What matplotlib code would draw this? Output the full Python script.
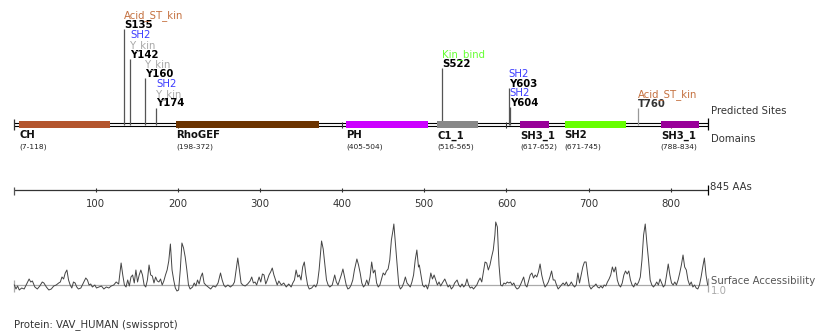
import matplotlib
matplotlib.use('Agg')
import matplotlib.pyplot as plt

plt.rcParams['font.family'] = ['DejaVu Sans']

protein_len = 845
protein_label = 'Protein: VAV_HUMAN (swissprot)'

# domains
dom_names = ['CH', 'RhoGEF', 'PH', 'C1_1', 'SH3_1', 'SH2', 'SH3_1']
dom_start = [7, 198, 405, 516, 617, 671, 788]
dom_end = [118, 372, 504, 565, 652, 745, 834]
dom_colors = ['#B4552D', '#6B3300', '#CC00FF', '#888888', '#990099', '#66FF00', '#990099']

# predicted sites (motifs listed bottom -> top above the site name)
site_names = ['S135', 'Y142', 'Y160', 'Y174', 'S522', 'Y603', 'Y604', 'T760']
site_pos = [135, 142, 160, 174, 522, 603, 604, 760]
site_motifs = [['Acid_ST_kin'], ['Y_kin', 'SH2'], ['Y_kin'], ['Y_kin', 'SH2'],
               ['Kin_bind'], ['SH2'], ['SH2'], ['Acid_ST_kin']]
motif_colors = {'Acid_ST_kin': '#C4703F', 'SH2': '#3C3CFF',
                'Y_kin': '#A8A8A8', 'Kin_bind': '#66FF33'}

ruler_ticks = [100, 200, 300, 400, 500, 600, 700, 800]

# surface accessibility profile
sa_res = [1, 3, 5, 7, 10, 13, 16, 19, 21, 23, 26, 29, 32, 35, 37, 40, 43, 46, 49, 52,
          55, 57, 59, 61, 63, 65, 67, 69, 71, 73, 75, 77, 79, 82, 85, 88, 90, 92, 94, 96,
          99, 101, 104, 107, 110, 113, 116, 119, 122, 125, 128, 131, 133, 135, 137, 139, 141, 143, 145, 147,
          149, 151, 153, 155, 157, 159, 161, 163, 165, 167, 169, 171, 173, 175, 177, 179, 181, 183, 185, 187,
          189, 191, 193, 195, 197, 199, 201, 203, 205, 207, 209, 211, 213, 215, 218, 220, 222, 224, 226, 228,
          230, 232, 234, 237, 240, 243, 246, 249, 252, 254, 256, 258, 261, 264, 267, 269, 271, 273, 275, 277,
          279, 282, 285, 288, 290, 292, 294, 296, 299, 301, 303, 305, 307, 309, 311, 313, 315, 317, 319, 321,
          323, 326, 329, 332, 335, 338, 340, 342, 344, 346, 348, 350, 352, 354, 356, 358, 360, 363, 366, 368,
          370, 372, 375, 377, 379, 381, 383, 385, 388, 391, 393, 395, 397, 399, 401, 403, 405, 407, 409, 411,
          413, 415, 418, 420, 422, 424, 426, 428, 430, 432, 434, 436, 438, 440, 442, 444, 446, 448, 450, 452,
          454, 456, 458, 460, 462, 463, 465, 467, 469, 471, 473, 475, 477, 479, 481, 483, 485, 487, 489, 491,
          493, 494, 496, 498, 500, 502, 504, 506, 508, 510, 512, 514, 516, 518, 520, 522, 525, 527, 529, 531,
          533, 535, 537, 540, 542, 544, 546, 548, 550, 552, 554, 556, 558, 560, 562, 564, 566, 568, 570, 572,
          574, 576, 578, 580, 582, 584, 586, 587, 589, 591, 593, 595, 597, 599, 601, 603, 605, 607, 609, 611,
          613, 615, 617, 619, 621, 623, 625, 627, 629, 631, 633, 635, 637, 639, 641, 643, 645, 647, 649, 651,
          653, 655, 657, 659, 661, 663, 665, 667, 669, 671, 673, 675, 677, 679, 681, 683, 685, 687, 689, 691,
          693, 695, 697, 699, 701, 703, 705, 707, 709, 711, 713, 715, 717, 719, 721, 723, 725, 727, 729, 731,
          733, 735, 737, 739, 741, 743, 745, 747, 749, 751, 753, 755, 757, 759, 761, 763, 765, 767, 769, 771,
          773, 775, 777, 779, 781, 783, 785, 787, 789, 791, 793, 795, 797, 799, 801, 803, 805, 807, 809, 811,
          813, 815, 817, 819, 821, 823, 825, 827, 829, 831, 833, 835, 837, 839, 841, 843, 845]
sa_val = [1.0, 0.6, 0.9, 0.5, 0.7, 0.6, 1.1, 1.6, 1.3, 1.4, 0.8, 0.6, 0.9, 1.3, 1.2, 0.8, 0.5, 0.6, 0.9, 1.0,
          1.2, 1.3, 1.8, 1.6, 2.2, 2.5, 1.5, 1.0, 0.7, 1.3, 1.2, 0.8, 0.6, 0.7, 1.2, 1.7, 1.5, 1.0, 1.1, 0.8,
          1.0, 0.7, 0.8, 0.9, 0.6, 0.8, 0.7, 0.9, 1.0, 1.3, 1.1, 3.2, 2.0, 1.0, 0.8, 1.5, 0.9, 1.8, 2.0, 1.2,
          2.5, 1.3, 2.0, 2.5, 2.0, 1.0, 0.8, 1.5, 3.0, 2.0, 1.9, 1.2, 1.8, 1.4, 1.3, 1.6, 1.0, 1.4, 2.0, 2.5,
          3.4, 5.1, 2.5, 1.5, 0.7, 0.4, 0.5, 2.5, 5.2, 4.7, 3.8, 2.5, 1.0, 0.6, 0.8, 1.2, 0.9, 1.5, 1.1, 1.8,
          2.2, 1.2, 1.0, 0.8, 0.6, 0.9, 0.8, 1.2, 2.2, 1.5, 1.0, 0.8, 1.0, 0.8, 1.0, 1.3, 2.5, 3.7, 2.5, 1.2,
          1.0, 0.9, 1.1, 1.4, 1.8, 1.2, 1.3, 1.0, 1.8, 1.3, 2.1, 2.0, 1.1, 1.5, 2.0, 2.3, 2.7, 2.0, 1.5, 1.0,
          1.4, 1.0, 1.2, 0.8, 1.1, 0.8, 1.2, 1.5, 2.5, 1.8, 2.0, 1.5, 2.8, 3.3, 2.0, 1.0, 0.6, 0.7, 1.0, 0.8,
          1.2, 2.5, 5.4, 4.6, 3.0, 1.5, 1.0, 0.8, 1.0, 2.0, 1.3, 1.0, 1.5, 2.0, 2.6, 1.8, 1.0, 0.6, 0.7, 1.0,
          1.5, 2.5, 3.6, 3.0, 2.2, 1.2, 0.8, 1.0, 1.5, 1.0, 1.8, 3.3, 2.2, 2.5, 1.2, 0.8, 1.0, 1.6, 2.2, 2.0,
          2.4, 2.6, 3.5, 5.5, 6.5, 7.1, 5.0, 3.0, 1.0, 0.6, 0.8, 1.2, 1.8, 1.2, 1.0, 0.8, 1.3, 2.0, 3.5, 4.5,
          2.8, 3.0, 2.0, 1.0, 0.8, 1.0, 0.6, 1.2, 2.2, 1.6, 2.0, 1.5, 1.0, 1.3, 0.9, 1.2, 1.6, 1.2, 0.8, 1.0,
          0.6, 0.8, 1.2, 1.5, 1.0, 0.8, 1.1, 0.8, 1.0, 1.6, 1.0, 0.7, 0.8, 0.6, 0.8, 1.0, 1.4, 1.7, 1.3, 2.3,
          3.3, 3.2, 2.5, 3.0, 3.8, 4.5, 6.0, 7.3, 6.8, 3.0, 1.0, 0.9, 1.2, 1.1, 1.3, 1.2, 1.3, 1.0, 1.2, 0.8,
          0.6, 0.7, 1.0, 1.4, 1.8, 1.0, 0.8, 1.4, 2.0, 2.2, 1.7, 2.0, 1.8, 2.3, 3.1, 2.0, 1.3, 0.8, 1.0, 1.3,
          1.8, 2.4, 1.5, 1.5, 1.0, 0.6, 0.8, 1.0, 1.2, 1.0, 1.3, 0.9, 1.0, 1.3, 1.0, 0.8, 1.0, 2.2, 1.2, 2.0,
          2.8, 3.3, 3.3, 2.0, 0.9, 0.6, 0.8, 0.9, 1.1, 0.8, 0.7, 0.9, 0.7, 1.0, 0.9, 1.3, 1.6, 2.0, 2.8, 2.3,
          2.8, 1.5, 1.0, 0.8, 1.2, 2.0, 2.4, 2.1, 2.4, 1.5, 1.0, 0.8, 1.2, 1.0, 1.3, 1.8, 3.5, 6.0, 7.1, 5.2,
          3.5, 1.5, 1.0, 0.8, 1.0, 1.3, 1.0, 1.6, 1.2, 0.8, 1.0, 2.0, 3.1, 2.0, 1.2, 1.0, 1.3, 1.0, 1.5, 2.2,
          3.0, 4.0, 2.8, 2.5, 1.5, 1.0, 1.3, 0.8, 1.0, 0.7, 0.6, 1.0, 1.8, 2.8, 3.7, 2.0, 1.0]

# layout (pixels)
W, H = 815, 331
px_per_res = 0.8215
x_left = -13.5 / px_per_res
x_right = (W - 13.5) / px_per_res
stem_top = [29, 59.3, 78, 107.7, 68.3, 88.3, 107, 108.3]
stem_colors = ['#555555'] * 7 + ['#999999']
name_colors = ['black'] * 7 + ['#333333']
fs = 7.3

fig = plt.figure(figsize=(W / 100, H / 100), dpi=100)
ax = fig.add_axes([0, 0, 1, 1])
ax.set_xlim(x_left, x_right)
ax.set_ylim(H, 0)
ax.axis('off')

lab_x = protein_len + 4

# backbone (double line) and ticks
ax.hlines([123.4, 126.1], 0, protein_len, color='black', lw=0.8, zorder=1)
ax.vlines([0], 119, 130, color='#333333', lw=0.9)
ax.vlines([protein_len], 118, 130, color='black', lw=0.9)
ax.vlines([200, 400, 600, 800], 121.7, 128.3, color='#333333', lw=0.8, zorder=1)

# domains
ax.barh(124.65, [e - s for s, e in zip(dom_start, dom_end)], height=7.3,
        left=dom_start, color=dom_colors, zorder=2)
for n, s, e in zip(dom_names, dom_start, dom_end):
    ax.text(s, 138.5, n, fontsize=fs, fontweight='bold', color='#111111', va='baseline', ha='left')
    ax.text(s, 148.3, '(%d-%d)' % (s, e), fontsize=5.4, color='#222222', va='baseline', ha='left')

# sites
for name, pos, motifs, top, sc, nc in zip(site_names, site_pos, site_motifs,
                                          stem_top, stem_colors, name_colors):
    ax.vlines(pos, top, 124.5, color=sc, lw=0.9, zorder=1.5)
    base = top - 1.2
    ax.text(pos, base, name, fontsize=fs, fontweight='bold', color=nc, va='baseline', ha='left')
    for i, m in enumerate(motifs):
        ax.text(pos, base - 9.8 * (i + 1), m, fontsize=fs, color=motif_colors[m],
                va='baseline', ha='left')

ax.text(lab_x, 114, 'Predicted Sites', fontsize=fs, color='#333333', va='baseline')
ax.text(lab_x, 141.5, 'Domains', fontsize=fs, color='#333333', va='baseline')

# ruler
ax.hlines(190, 0, protein_len, color='#333333', lw=0.9)
ax.vlines(0, 186.5, 194.5, color='#555555', lw=0.9)
ax.vlines(protein_len, 185, 195, color='black', lw=0.9)
ax.vlines(ruler_ticks, 188, 192, color='#333333', lw=0.8)
for t in ruler_ticks:
    ax.text(t, 207, str(t), fontsize=fs, color='#333333', ha='center', va='baseline')
ax.text(lab_x - 1, 190, '%d AAs' % protein_len, fontsize=fs, color='#333333', va='baseline')

ax.text(0, 327, protein_label, fontsize=fs, color='#333333', va='baseline')

# surface accessibility
sa_top, sa_bot = 215, 300
ax_sa = fig.add_axes([0, (H - sa_bot) / H, 1, (sa_bot - sa_top) / H])
ax_sa.set_xlim(x_left, x_right)
ax_sa.set_ylim(1.0 - (sa_bot - 285) / 10, 1.0 + (285 - sa_top) / 10)
ax_sa.axis('off')
ax_sa.patch.set_alpha(0)
ax_sa.hlines(1.0, 0, protein_len, color='#AAAAAA', lw=0.9)
ax_sa.vlines([0], 0.3, 1.5, color='#AAAAAA', lw=0.9)
ax_sa.vlines([protein_len], 0.3, 1.7, color='#AAAAAA', lw=0.9)
ax_sa.plot(sa_res, sa_val, color='#444444', lw=0.7)
ax_sa.text(lab_x, 1.15, 'Surface Accessibility', fontsize=fs, color='#555555', va='baseline')
ax_sa.text(lab_x, 0.05, '1.0', fontsize=fs, color='#AAAAAA', va='baseline')

fig.savefig('out.png', dpi=100)
